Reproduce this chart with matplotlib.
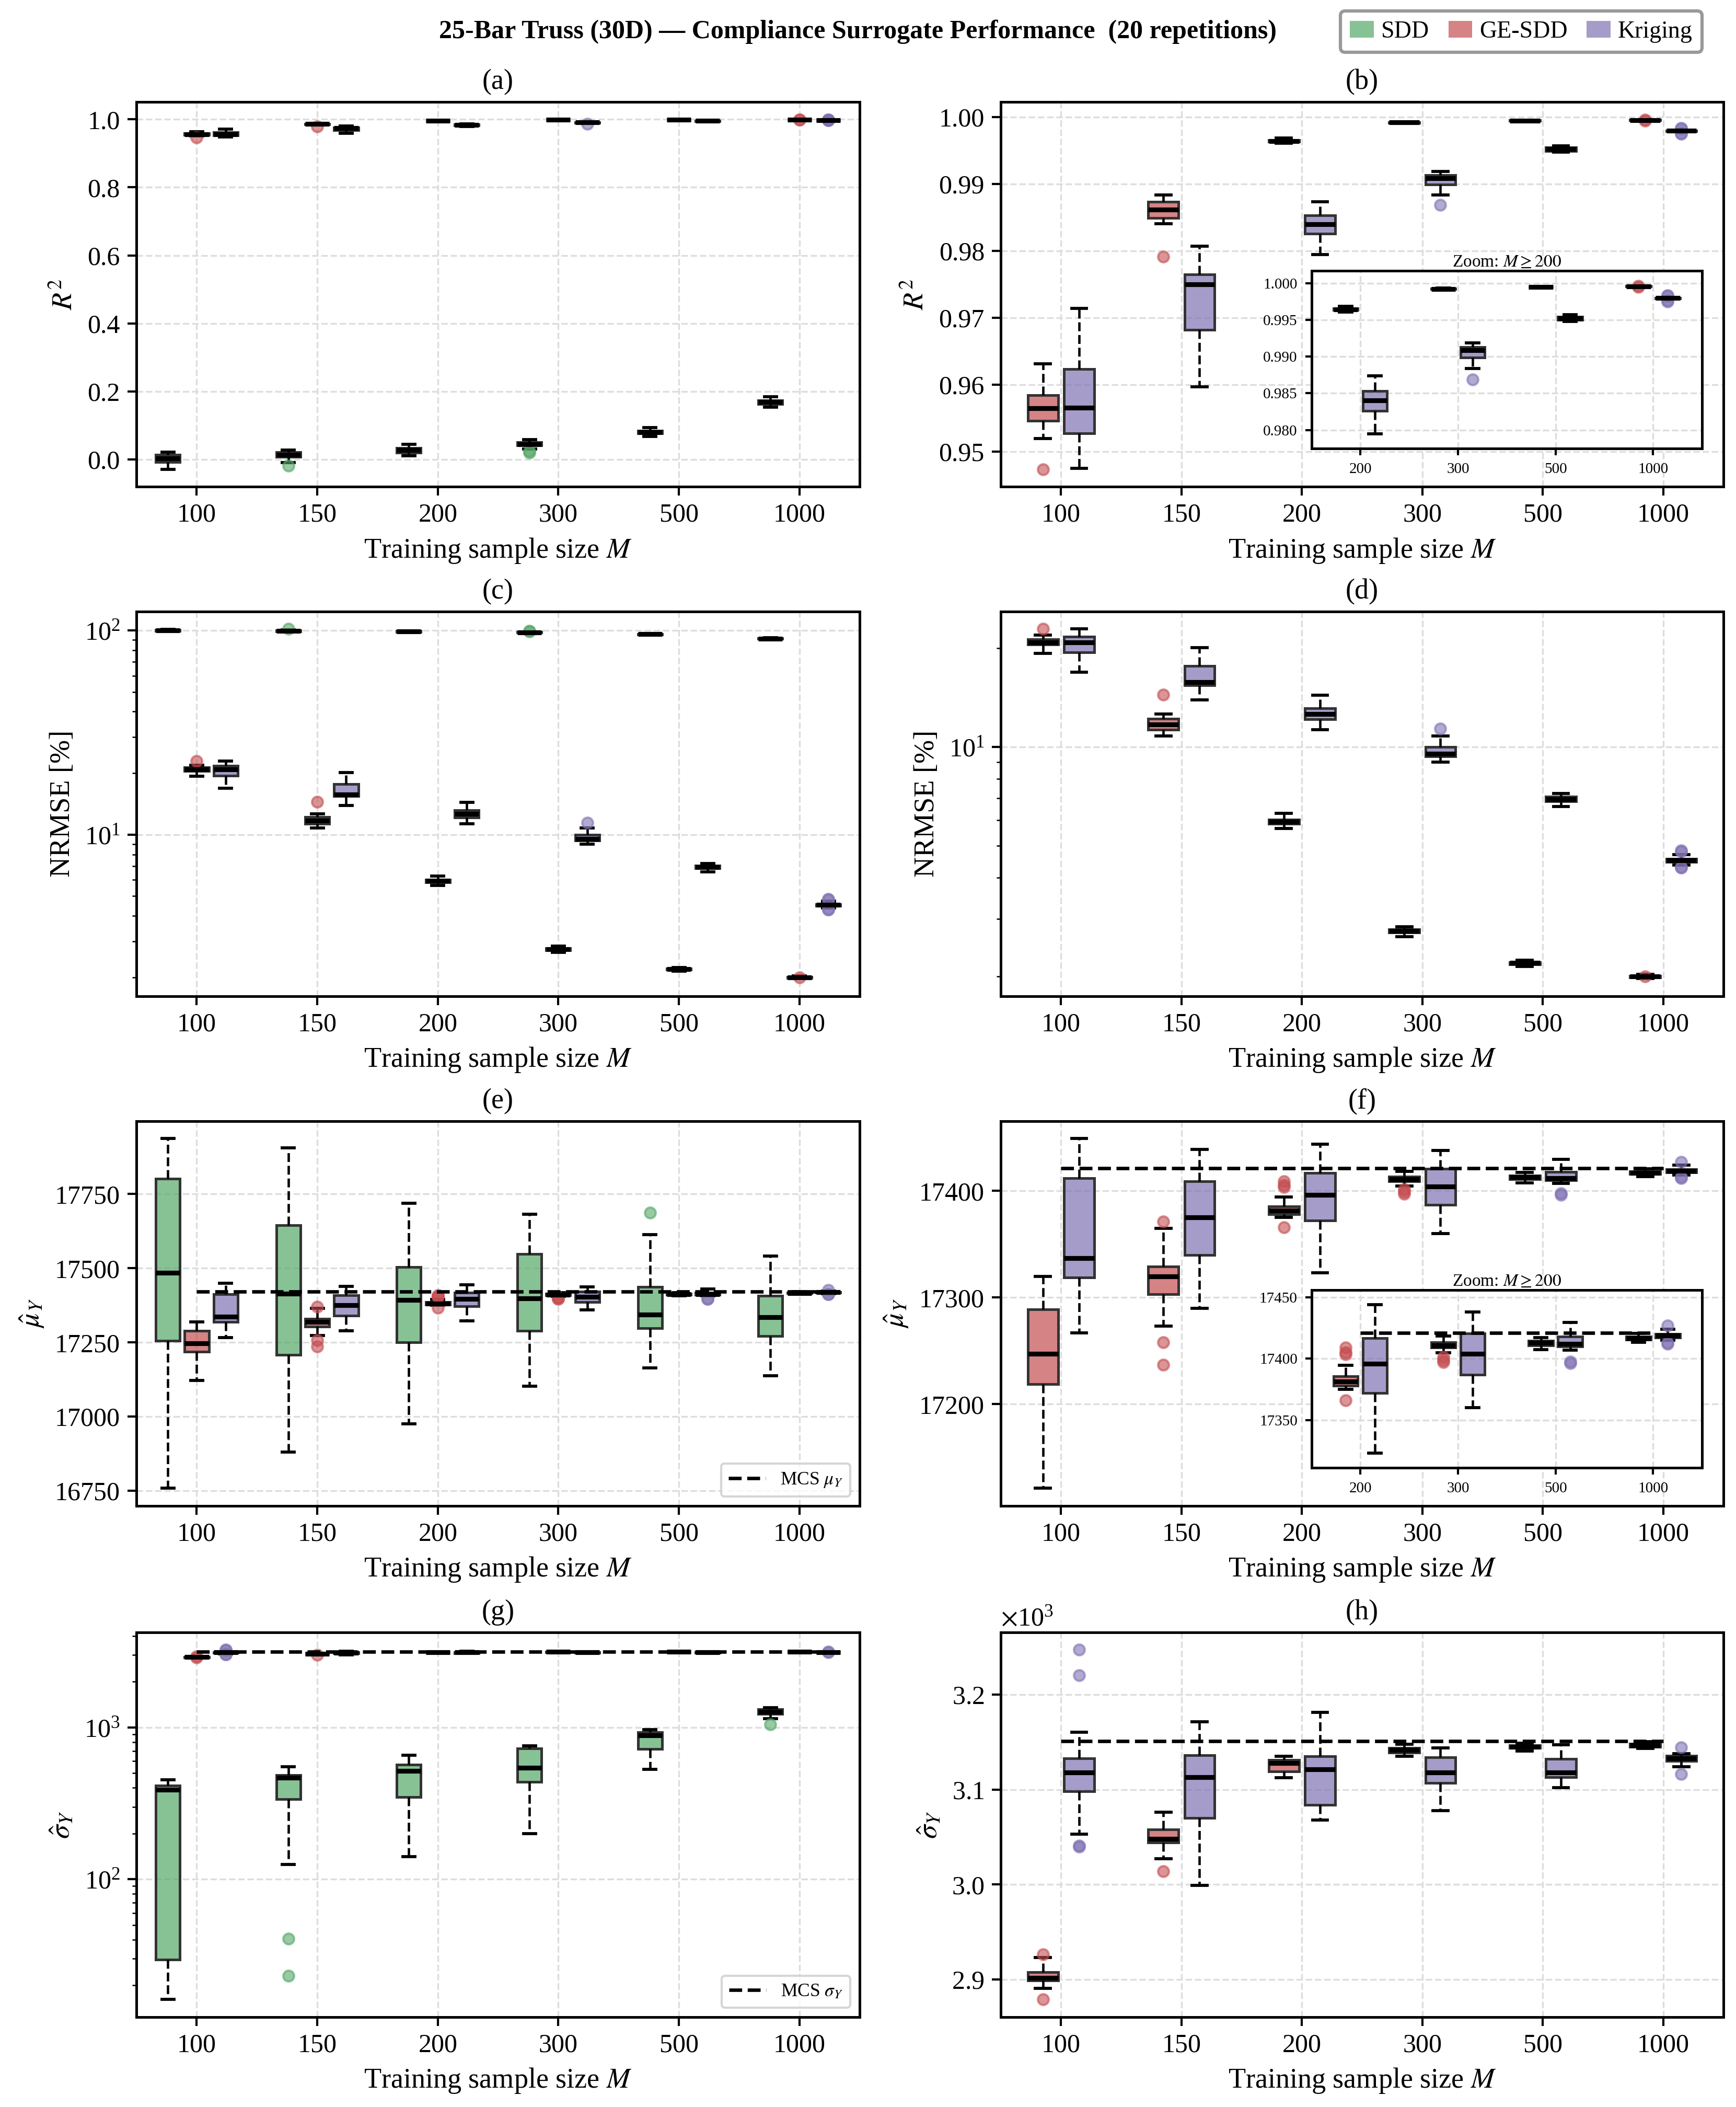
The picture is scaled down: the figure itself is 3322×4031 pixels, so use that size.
import numpy as np
import matplotlib
matplotlib.use('Agg')
import matplotlib.pyplot as plt
from matplotlib.colors import to_rgba
from matplotlib.patches import Patch
from matplotlib.lines import Line2D
from matplotlib.ticker import MultipleLocator

plt.rcParams['font.family'] = ['Liberation Serif', 'DejaVu Serif']
plt.rcParams['mathtext.fontset'] = 'stix'

M_LABELS = ['100', '150', '200', '300', '500', '1000']

# box stats per training size: [whislo, q1, median, q3, whishi]
R2_SDD = [[-0.029, -0.008, 0.003, 0.014, 0.022],
          [-0.009, 0.008, 0.014, 0.021, 0.0275],
          [0.010, 0.020, 0.0275, 0.034, 0.044],
          [0.031, 0.041, 0.045, 0.050, 0.058],
          [0.067, 0.076, 0.080, 0.085, 0.093],
          [0.154, 0.163, 0.169, 0.174, 0.184]]
R2_SDD_FL = [[], [-0.018], [], [0.019, 0.024], [], []]
R2_GE = [[0.95192, 0.95460, 0.95645, 0.95840, 0.96309],
         [0.98404, 0.98495, 0.98615, 0.98735, 0.98838],
         [0.99607, 0.99632, 0.99645, 0.99658, 0.99688],
         [0.99912, 0.99918, 0.99922, 0.99926, 0.99932],
         [0.99942, 0.99946, 0.99949, 0.99952, 0.99956],
         [0.99950, 0.99954, 0.99957, 0.99960, 0.99963]]
R2_GE_FL = [[0.94736], [0.97913], [], [], [], [0.99966, 0.99948]]
R2_KR = [[0.94751, 0.95270, 0.95657, 0.96235, 0.97140],
         [0.95970, 0.96820, 0.97502, 0.97650, 0.98068],
         [0.97948, 0.98260, 0.98402, 0.98535, 0.98736],
         [0.98838, 0.98990, 0.99088, 0.99132, 0.99190],
         [0.99478, 0.99497, 0.99521, 0.99545, 0.99574],
         [0.99785, 0.99792, 0.99796, 0.99800, 0.99806]]
R2_KR_FL = [[], [], [], [0.98690], [], [0.99838, 0.99830, 0.99760, 0.99752]]

NR_SDD = [[98.9, 99.2, 99.8, 100.5, 101.3],
          [98.6, 98.8, 99.3, 99.7, 100.4],
          [97.7, 98.2, 98.6, 99.1, 99.5],
          [97.0, 97.4, 97.7, 98.0, 98.4],
          [95.2, 95.6, 95.9, 96.2, 96.5],
          [90.4, 90.9, 91.2, 91.5, 91.9]]
NR_SDD_FL = [[], [101.6], [], [99.0, 99.2], [], []]
NR_GE = [[19.3, 20.5, 20.87, 21.3, 21.9],
         [10.8, 11.3, 11.73, 12.2, 12.6],
         [5.64, 5.84, 5.93, 6.02, 6.28],
         [2.65, 2.72, 2.75, 2.78, 2.84],
         [2.15, 2.18, 2.20, 2.21, 2.24],
         [1.97, 1.99, 2.00, 2.01, 2.03]]
NR_GE_FL = [[22.9], [14.45], [], [], [], [2.0]]
NR_KR = [[16.9, 19.4, 20.8, 21.7, 22.9],
         [13.9, 15.4, 15.75, 17.7, 20.1],
         [11.3, 12.15, 12.63, 13.15, 14.4],
         [9.0, 9.36, 9.55, 10.0, 10.8],
         [6.58, 6.83, 6.93, 7.07, 7.21],
         [4.37, 4.47, 4.52, 4.57, 4.71]]
NR_KR_FL = [[], [], [], [11.4], [], [4.84, 4.80, 4.31, 4.29]]

MU_SDD = [[16758, 17255, 17484, 17802, 17937],
          [16881, 17209, 17414, 17645, 17906],
          [16976, 17251, 17393, 17505, 17720],
          [17102, 17289, 17398, 17548, 17683],
          [17165, 17298, 17344, 17438, 17613],
          [17137, 17271, 17335, 17408, 17542]]
MU_SDD_FL = [[], [], [], [], [17687], []]
MU_GE = [[17121, 17219, 17247, 17289, 17320],
         [17273, 17303, 17320, 17329, 17365],
         [17375, 17378, 17381.5, 17385.5, 17394.5],
         [17404.7, 17409, 17411, 17413.5, 17418.5],
         [17407.6, 17411, 17412.8, 17414.6, 17417.4],
         [17413.3, 17415.6, 17416.8, 17418.2, 17420.7]]
MU_GE_FL = [[], [17371, 17258, 17237], [17409, 17405.5, 17403.6, 17366],
            [17401.4, 17399, 17397.1], [], []]
MU_KR = [[17267, 17319, 17337, 17412, 17449],
         [17290, 17340, 17375, 17409, 17439],
         [17323, 17372, 17396, 17417, 17444],
         [17360, 17387, 17404, 17420.5, 17438],
         [17407, 17410, 17412, 17418, 17429.5],
         [17415, 17417.4, 17419, 17420.4, 17424]]
MU_KR_FL = [[], [], [], [], [17396.4, 17397.5], [17427.1, 17412.1, 17413]]
MCS_MU = 17421

SIG_SDD = [[16.1, 29.6, 387, 414, 452],
           [124.6, 336, 468, 485, 552],
           [141, 347, 518, 567, 654],
           [199, 436, 541, 727, 756],
           [528, 724, 889, 931, 969],
           [1139, 1227, 1267, 1317, 1349]]
SIG_SDD_FL = [[], [40.6, 23.1], [], [], [], [1044]]
SIG_GE = [[2891, 2899, 2902, 2908, 2923],
          [3027, 3044, 3048, 3058, 3076],
          [3112.5, 3119, 3128, 3131, 3135],
          [3135, 3139, 3141.6, 3144, 3147.4],
          [3140.7, 3143.5, 3145, 3146.5, 3148.8],
          [3143, 3145, 3146.5, 3148, 3150.3]]
SIG_GE_FL = [[2926.5, 2879], [3013.7], [], [], [], []]
SIG_KR = [[3053, 3098, 3118, 3133, 3160],
          [2999, 3070, 3113, 3136, 3171.5],
          [3068, 3084, 3121, 3135, 3181],
          [3078, 3107, 3118, 3134, 3144],
          [3102, 3113, 3118, 3132, 3147],
          [3124, 3130, 3133, 3135.5, 3137.5]]
SIG_KR_FL = [[3247, 3220, 3041, 3040], [], [], [], [], [3144.5, 3116.3]]
MCS_SIG = 3151

C_SDD, C_GE, C_KR = '#55a868', '#c44e52', '#8172b3'
XLAB = 'Training sample size $M$'


def boxes(ax, stats, fliers, pos, color, width):
    bx = [dict(whislo=s[0], q1=s[1], med=s[2], q3=s[3], whishi=s[4], fliers=f)
          for s, f in zip(stats, fliers)]
    ax.bxp(bx, positions=pos, widths=width, patch_artist=True, manage_ticks=False,
           boxprops=dict(facecolor=to_rgba(color, 0.7), edgecolor='#333333', linewidth=1.2),
           medianprops=dict(color='black', linewidth=2.2),
           whiskerprops=dict(color='black', linewidth=1.1, linestyle='--'),
           capprops=dict(color='black', linewidth=1.4),
           flierprops=dict(marker='o', markerfacecolor=color, markeredgecolor=color,
                           markersize=5, alpha=0.6))


def mcs_line(ax, value, x1):
    ax.plot([0, x1], [value, value], color='black', ls='--', lw=1.6, zorder=5)


def style(ax, title, ylabel, n=6, labels=M_LABELS, small=False):
    ax.set_xticks(range(n))
    ax.set_xticklabels(labels)
    ax.set_xlim(-0.5, n - 0.5)
    ax.grid(True, ls='--', lw=0.8, color='#dddddd')
    ax.set_axisbelow(True)
    for s in ax.spines.values():
        s.set_linewidth(1.2)
    if small:
        ax.tick_params(labelsize=7, width=1.0, length=3)
        ax.set_title(title, fontsize=8, pad=2)
    else:
        ax.tick_params(labelsize=12, width=1.0, length=4)
        ax.set_title(title, fontsize=13)
        ax.set_xlabel(XLAB, fontsize=13)
        ax.set_ylabel(ylabel, fontsize=13)


def left_panel(ax, sdd, sdd_fl, ge, ge_fl, kr, kr_fl, title, ylabel):
    x = np.arange(6)
    boxes(ax, sdd, sdd_fl, x - 0.24, C_SDD, 0.2)
    boxes(ax, ge, ge_fl, x, C_GE, 0.2)
    boxes(ax, kr, kr_fl, x + 0.24, C_KR, 0.2)
    style(ax, title, ylabel)


def right_panel(ax, ge, ge_fl, kr, kr_fl, title, ylabel):
    x = np.arange(6)
    boxes(ax, ge, ge_fl, x - 0.15, C_GE, 0.25)
    boxes(ax, kr, kr_fl, x + 0.15, C_KR, 0.25)
    style(ax, title, ylabel)


def zoom_inset(ax, ge, ge_fl, kr, kr_fl, mcs=None):
    axin = ax.inset_axes([0.43, 0.099, 0.54, 0.462])
    x = np.arange(4)
    boxes(axin, ge[2:], ge_fl[2:], x - 0.15, C_GE, 0.25)
    boxes(axin, kr[2:], kr_fl[2:], x + 0.15, C_KR, 0.25)
    vals = [v for s in ge[2:] + kr[2:] for v in s] + \
           [v for f in ge_fl[2:] + kr_fl[2:] for v in f]
    lo, hi = min(vals), max(vals)
    pad = 0.1 * (hi - lo)
    axin.set_ylim(lo - pad, hi + pad)
    if mcs is not None:
        mcs_line(axin, mcs, 3)
        axin.set_ylim(lo - pad, hi + pad)
    style(axin, 'Zoom: $M\\geq 200$', None, n=4, labels=M_LABELS[2:], small=True)
    return axin


fig = plt.figure(figsize=(3322 / 300, 4031 / 300), dpi=300)
LX, LW = 0.0786, 0.4166
RX, RW = 0.5765, 0.4163
ROWS = [0.769, 0.5272, 0.2853, 0.0427]
H = 0.1826

ax_a = fig.add_axes([LX, ROWS[0], LW, H])
ax_b = fig.add_axes([RX, ROWS[0], RW, H])
ax_c = fig.add_axes([LX, ROWS[1], LW, H])
ax_d = fig.add_axes([RX, ROWS[1], RW, H])
ax_e = fig.add_axes([LX, ROWS[2], LW, H])
ax_f = fig.add_axes([RX, ROWS[2], RW, H])
ax_g = fig.add_axes([LX, ROWS[3], LW, H])
ax_h = fig.add_axes([RX, ROWS[3], RW, H])

# R^2
left_panel(ax_a, R2_SDD, R2_SDD_FL, R2_GE, R2_GE_FL, R2_KR, R2_KR_FL, '(a)', '$R^2$')
right_panel(ax_b, R2_GE, R2_GE_FL, R2_KR, R2_KR_FL, '(b)', '$R^2$')
zoom_inset(ax_b, R2_GE, R2_GE_FL, R2_KR, R2_KR_FL)

# NRMSE
ax_c.set_yscale('log')
ax_d.set_yscale('log')
left_panel(ax_c, NR_SDD, NR_SDD_FL, NR_GE, NR_GE_FL, NR_KR, NR_KR_FL, '(c)', 'NRMSE [%]')
right_panel(ax_d, NR_GE, NR_GE_FL, NR_KR, NR_KR_FL, '(d)', 'NRMSE [%]')

# mean
left_panel(ax_e, MU_SDD, MU_SDD_FL, MU_GE, MU_GE_FL, MU_KR, MU_KR_FL, '(e)', '$\\hat{\\mu}_Y$')
mcs_line(ax_e, MCS_MU, 5.34)
ax_e.yaxis.set_major_locator(MultipleLocator(250))
ax_e.legend(handles=[Line2D([], [], color='black', ls='--', lw=1.6, label='MCS $\\mu_Y$')],
            loc='lower right', fontsize=8.5, edgecolor='0.8', handlelength=2.0)
right_panel(ax_f, MU_GE, MU_GE_FL, MU_KR, MU_KR_FL, '(f)', '$\\hat{\\mu}_Y$')
mcs_line(ax_f, MCS_MU, 5)
zoom_inset(ax_f, MU_GE, MU_GE_FL, MU_KR, MU_KR_FL, mcs=MCS_MU)

# std
ax_g.set_yscale('log')
left_panel(ax_g, SIG_SDD, SIG_SDD_FL, SIG_GE, SIG_GE_FL, SIG_KR, SIG_KR_FL, '(g)', '$\\hat{\\sigma}_Y$')
mcs_line(ax_g, MCS_SIG, 5.34)
ax_g.legend(handles=[Line2D([], [], color='black', ls='--', lw=1.6, label='MCS $\\sigma_Y$')],
            loc='lower right', fontsize=8.5, edgecolor='0.8', handlelength=2.0)
right_panel(ax_h, SIG_GE, SIG_GE_FL, SIG_KR, SIG_KR_FL, '(h)', '$\\hat{\\sigma}_Y$')
mcs_line(ax_h, MCS_SIG, 5)
ax_h.ticklabel_format(axis='y', style='sci', scilimits=(3, 3), useMathText=True)
ax_h.yaxis.get_offset_text().set_fontsize(12)

fig.suptitle('25-Bar Truss (30D) \u2014 Compliance Surrogate Performance  (20 repetitions)',
             fontsize=12, fontweight='bold', x=0.494, y=0.985, va='center')
handles = [Patch(facecolor=to_rgba(c, 0.7), edgecolor='none', label=n)
           for c, n in [(C_SDD, 'SDD'), (C_GE, 'GE-SDD'), (C_KR, 'Kriging')]]
leg = fig.legend(handles=handles, loc='upper right', bbox_to_anchor=(0.9805, 0.9948), ncol=3,
                 fontsize=11, edgecolor='0.5', handlelength=1.0, handletextpad=0.3,
                 columnspacing=0.8, borderaxespad=0)
leg.get_frame().set_linewidth(1.5)

fig.savefig('out.png', dpi=300)
